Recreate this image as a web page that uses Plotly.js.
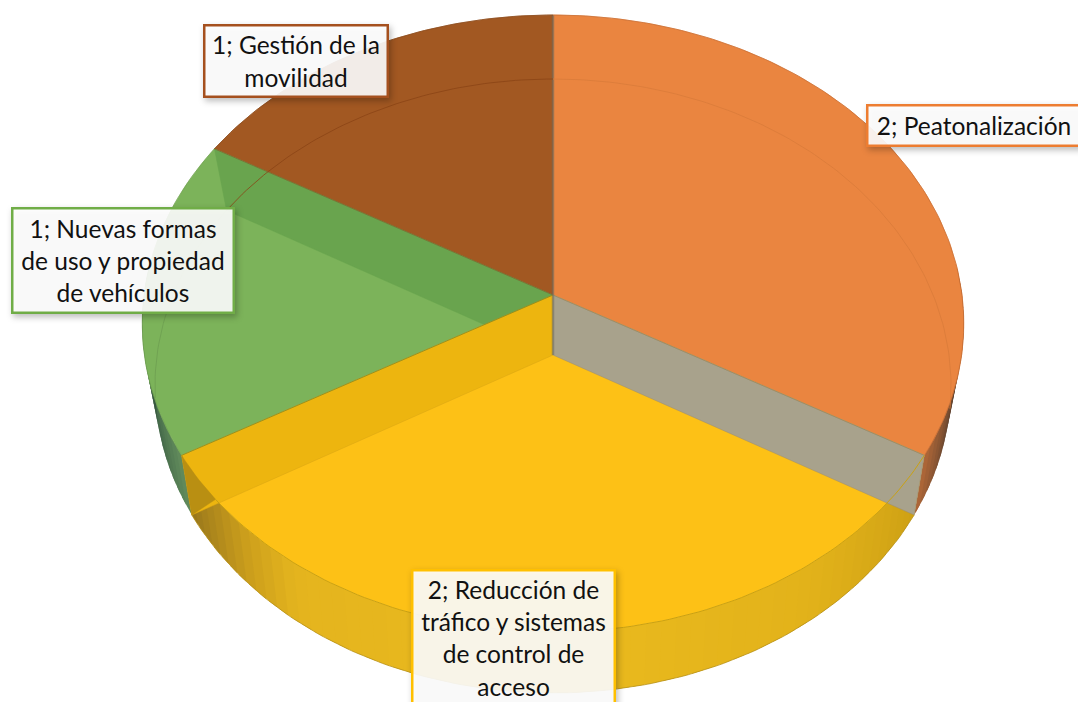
<!DOCTYPE html>
<html><head><meta charset="utf-8">
<script src="https://cdn.plot.ly/plotly-3.0.1.min.js"></script>
<style>
html,body{margin:0;padding:0;background:#fff;overflow:hidden}
#chart{width:1078px;height:702px}
.annotation rect.bg{filter:drop-shadow(2px 3px 3px rgba(0,0,0,.28))}
</style></head><body><div id="chart"></div>
<script>
// Data
var categories = ["Peatonalización","Reducción de tráfico y sistemas de control de acceso","Nuevas formas de uso y propiedad de vehículos","Gestión de la movilidad"];
var values = [2,2,1,1];
var faceColors = ["#EA8540","#FDC116","#7CB35A","#A25822"];
var borderColors = ["#ED7D31","#FFC000","#70AD47","#A5501E"];
var labelLines = ["2; Peatonalización","2; Reducción de<br>tráfico y sistemas<br>de control de<br>acceso","1; Nuevas formas<br>de uso y propiedad<br>de vehículos","1; Gestión de la<br>movilidad"];

// Projection of the tilted pie onto the page
var CX = 553;
var TOP = {ay:295, a:-278.6, c:0.0924, rx:409};
var BOT = {ay:355, a:-268, c:0.101, rx:396};
function proj(d, deg){
  var t = deg*Math.PI/180, u = Math.sin(t), v = Math.cos(t), w = 1 + d.c*v;
  return [CX + d.rx*u/w, (d.a*v + d.ay)/w];
}
function arc(d, a0, a1){
  var n = Math.max(2, Math.ceil(Math.abs(a1-a0))), pts = [];
  for (var i=0;i<=n;i++) pts.push(proj(d, a0+(a1-a0)*i/n));
  return pts;
}
function apex(d){ return [CX, d.ay]; }

var total = values.reduce(function(s,v){return s+v;},0);
var edges = [0];
values.forEach(function(v){ edges.push(edges[edges.length-1] + v/total*360); });

var traces = [];
function poly(pts, color, lineColor, lineWidth){
  traces.push({type:"scatter", mode:"lines", x:pts.map(function(p){return p[0];}).concat(pts[0][0]),
    y:pts.map(function(p){return p[1];}).concat(pts[0][1]), fill:"toself", fillcolor:color,
    line:{color:lineColor||color, width:lineWidth===undefined?0.5:lineWidth}, hoverinfo:"skip", showlegend:false});
}
function path(pts, color, width){
  traces.push({type:"scatter", mode:"lines", x:pts.map(function(p){return p[0];}), y:pts.map(function(p){return p[1];}),
    line:{color:color, width:width}, hoverinfo:"skip", showlegend:false});
}
function mix(stops, f){
  for (var i=0;i<stops.length-1;i++){
    if (f<=stops[i+1][0]){
      var s=(f-stops[i][0])/(stops[i+1][0]-stops[i][0]), A=stops[i][1], B=stops[i+1][1];
      return "rgb("+[0,1,2].map(function(k){return Math.round(A[k]+(B[k]-A[k])*s);}).join(",")+")";
    }
  }
  var L=stops[stops.length-1][1]; return "rgb("+L.join(",")+")";
}
function wall(a0, a1, stops){
  var n = Math.round(Math.abs(a1-a0)/2);
  for (var i=0;i<n;i++){
    var p = a0+(a1-a0)*i/n, q = Math.min(a0+(a1-a0)*(i+1)/n + 1.5, a1);
    var pts = arc(TOP,p,q).concat(arc(BOT,q,p));
    poly(pts, mix(stops,(i+.5)/n), "rgba(0,0,0,0)", 0);
  }
}
// Outer walls
wall(edges[0]+85, edges[1], [[0,[70,50,40]],[0.5,[80,58,44]],[1,[176,104,56]]]);
wall(edges[1], edges[2], [[0,[205,160,20]],[0.2,[226,178,26]],[0.5,[234,186,30]],[0.8,[228,180,30]],[0.87,[205,160,28]],[0.93,[178,138,28]],[1,[150,118,28]]]);
wall(edges[2], edges[2]+35, [[0,[98,140,92]],[0.5,[56,90,66]],[1,[50,70,50]]]);

// Top faces
values.forEach(function(v,i){
  poly([apex(TOP)].concat(arc(TOP,edges[i],edges[i+1])), faceColors[i]);
});

// Inner walls between the two faces
function innerWall(deg, color, lineColor){
  poly([apex(TOP), proj(TOP,deg), proj(BOT,deg), apex(BOT)], color, lineColor||color, 0.5);
}
innerWall(edges[3], "#69A44E", "#69A44E");
innerWall(edges[2], "#EDB50F", "#D8A414");
innerWall(edges[1], "#A8A28C", "#9A8C72");
// Part of the left yellow wall outside the top rim
var cut = 231;
poly(arc(TOP,cut,edges[2]).concat([proj(BOT,edges[2])]), "#B98F12", "#B98F12", 0.5);
// Seams along the slice edges
path([apex(TOP), proj(TOP,edges[3])], "#7C6A30", 0.8);
path([apex(TOP), proj(TOP,edges[2])], "#8A8A20", 0.8);
path([proj(TOP,edges[1]), apex(TOP)], "#A08C66", 1);
path([proj(TOP,0), apex(BOT)], "rgba(110,110,100,0.55)", 2.5);

// Thin rims
path(arc(TOP,edges[1],edges[2]-9), "#C9A114", 1);
path(arc(BOT,0,100), "#D97B3A", 0.8);
path(arc(BOT,262,300), "#6D9E50", 0.8);
path(arc(BOT,300,360), "#8A4415", 0.8);
// Outer edges
path(arc(TOP,0,120), "#C96F33", 0.8);
path(arc(TOP,240,300), "#6B9C4C", 0.6);
path(arc(TOP,300,360), "#8A4A1C", 0.8);
path(arc(BOT,120,240), "#B8921A", 0.8);

var FONT = 24.5, LINE = 32.4;
var layout = {
  width:1078, height:702, margin:{l:0,r:0,t:0,b:0}, paper_bgcolor:"#fff", plot_bgcolor:"#fff", showlegend:false,
  xaxis:{range:[0,1078], visible:false, fixedrange:true},
  yaxis:{range:[702,0], visible:false, fixedrange:true},
  annotations:[
    [974,125,214,41,0],[513,649,203,158,1],[123,260,222,105,2],[296,61,184,72,3]
  ].map(function(b){
    var i=b[4];
    return {x:b[0],y:b[1],xref:"x",yref:"y",text:labelLines[i],showarrow:false,width:b[2]-3,height:b[3]-3,align:"center",valign:i===1?"top":"middle",
      bgcolor:"rgba(255,255,255,0.9)",bordercolor:borderColors[i],borderwidth:2.5,borderpad:0,
      font:{family:"Lato, Carlito, sans-serif",size:FONT,color:"#111"}};
  })
};
Plotly.newPlot("chart",traces,layout,{displayModeBar:false,staticPlot:true}).then(function(gd){
  // Line spacing of the label text
  gd.querySelectorAll(".annotation text").forEach(function(t){
    var lines=t.querySelectorAll("tspan.line");
    var extra = lines.length===4 ? 4 : 0;
    lines.forEach(function(l,i){ l.setAttribute("dy",(extra+i*LINE-(lines.length-1)*(LINE-1.3*FONT)/2)+"px"); });
  });
});
</script></body></html>
